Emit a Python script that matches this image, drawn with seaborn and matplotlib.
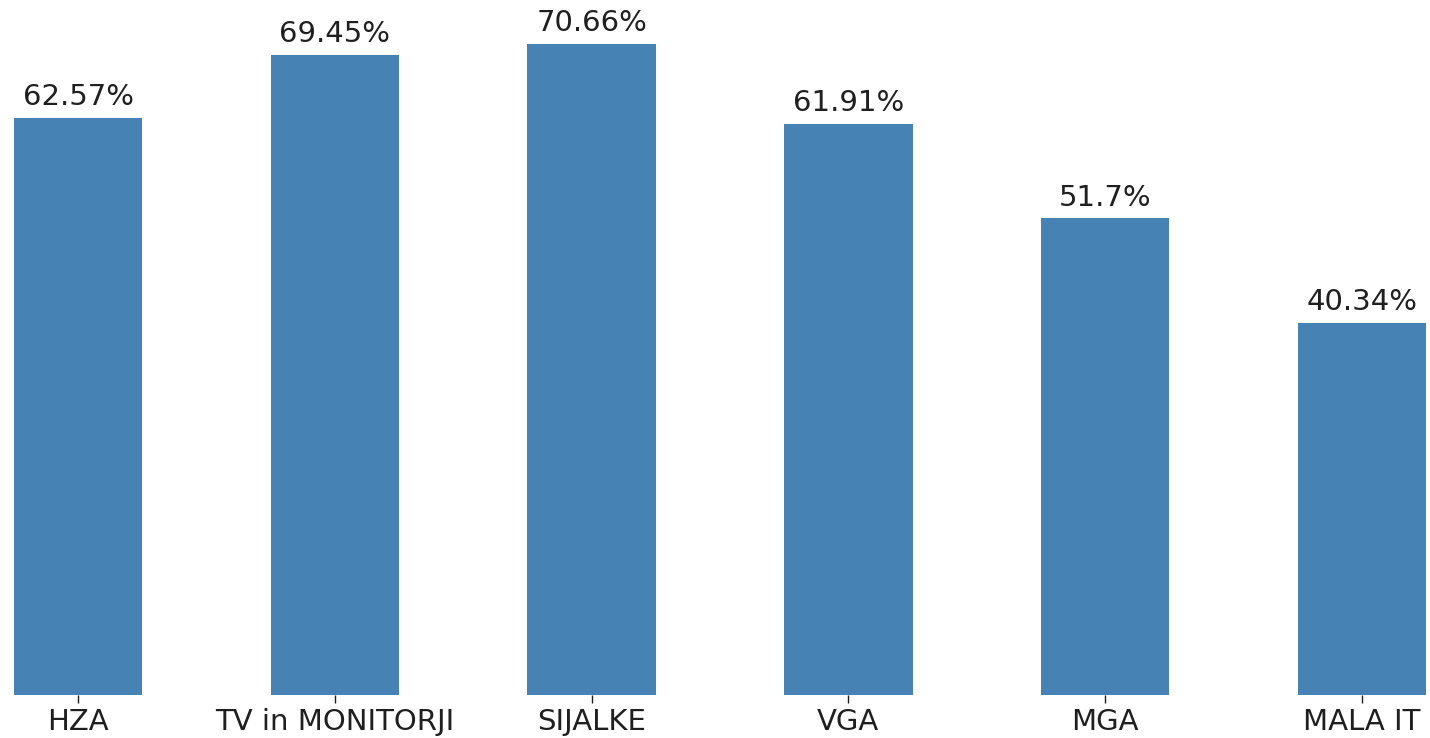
import pandas as pd
import seaborn as sns
import matplotlib.pyplot as plt

categories = ["HZA", "TV in MONITORJI", "SIJALKE", "VGA", "MGA", "MALA IT"]
values = [62.57, 69.45, 70.66, 61.91, 51.7, 40.34]
labels = ["62.57%", "69.45%", "70.66%", "61.91%", "51.7%", "40.34%"]

df = pd.DataFrame({"kategorija": categories, "delez": values})

sns.set_style("white")
fig = plt.figure(figsize=(14.3, 7.38), dpi=100)
ax = fig.add_axes([14 / 1430, 43 / 738, 1412 / 1430, 695 / 738])

sns.barplot(data=df, x="kategorija", y="delez", color="steelblue",
            saturation=1, width=0.5, linewidth=0, ax=ax)
ax.bar_label(ax.containers[0], labels=labels, padding=5,
             fontsize=21, color="#1f1f1f")

ax.set_xlim(-0.25, len(categories) - 0.75)
ax.set_ylim(0, 75.4)
ax.set_xlabel("")
ax.set_ylabel("")
ax.set_yticks([])
ax.tick_params(axis="x", bottom=True, length=6, width=1,
               colors="#1f1f1f", labelsize=21, pad=3)
sns.despine(ax=ax, left=True, bottom=True)

fig.savefig("out.png", dpi=100)
